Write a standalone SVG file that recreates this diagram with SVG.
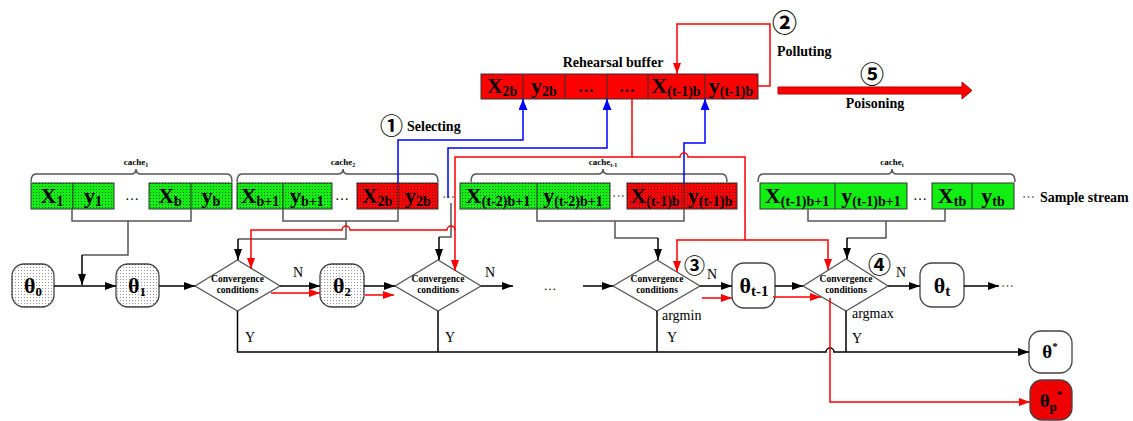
<svg xmlns="http://www.w3.org/2000/svg" width="1133" height="421" viewBox="0 0 1133 421">
<defs>
<pattern id="dots" width="3" height="3" patternUnits="userSpaceOnUse"><rect width="1" height="1" fill="#000" opacity="0.6"/></pattern>
<marker id="ak" markerWidth="11" markerHeight="8" refX="11" refY="4" orient="auto" markerUnits="userSpaceOnUse"><path d="M0,0 L11,4 L0,8 z" fill="#000"/></marker>
<marker id="ar" markerWidth="11" markerHeight="8" refX="11" refY="4" orient="auto" markerUnits="userSpaceOnUse"><path d="M0,0 L11,4 L0,8 z" fill="#ff0000"/></marker>
<marker id="ab" markerWidth="11" markerHeight="9" refX="11" refY="4.5" orient="auto" markerUnits="userSpaceOnUse"><path d="M0,0 L11,4.5 L0,9 z" fill="#0000ff"/></marker>
<style>
.t{font-family:"Liberation Serif",serif;font-weight:bold;fill:#000}
.n{font-family:"Liberation Serif",serif;fill:#000}
.c{text-anchor:middle}
.big{font-size:22px}
.s{font-size:14px}
.lab{font-size:14px}
.cv{font-size:9.5px;text-anchor:middle}
.cl{font-size:9px;text-anchor:middle}
.circ{font-family:"Noto Sans CJK SC","DejaVu Sans",sans-serif;font-weight:bold;fill:#000}
.g{fill:#11ee11}
.r{fill:#ff0000}
.cell{stroke:#333;stroke-width:1}
.dot{fill:url(#dots)}
.node{stroke:#444;stroke-width:1.3}
.dia{fill:#fff;stroke:#555;stroke-width:1.3}
.k{fill:none;stroke:#000;stroke-width:1.5}
.gk{fill:none;stroke:#555;stroke-width:1.5}
.rl{fill:none;stroke:#ff0000;stroke-width:1.5}
.bl{fill:none;stroke:#0000ff;stroke-width:1.5}
.gd{fill:#777;font-family:"Liberation Serif",serif;font-size:13px}
</style>
</defs>
<rect width="1133" height="421" fill="#fff"/>

<!-- Rehearsal buffer -->
<g id="buffer">
<text class="t lab c" x="613" y="67">Rehearsal buffer</text>
<rect x="481" y="74" width="277" height="25" class="r cell"/>
<path d="M523,74V99M565,74V99M607,74V99M648,74V99M705,74V99" stroke="#333" stroke-width="1"/>
<text class="t big c" x="502" y="93">X<tspan class="s" dy="3">2b</tspan></text>
<text class="t big c" x="544" y="93">y<tspan class="s" dy="3">2b</tspan></text>
<text class="t c" x="586" y="92" font-size="16">…</text>
<text class="t c" x="627" y="92" font-size="16">…</text>
<text class="t big c" x="676" y="93">X<tspan class="s" dy="3">(t-1)b</tspan></text>
<text class="t big c" x="731" y="93">y<tspan class="s" dy="3">(t-1)b</tspan></text>
</g>

<g id="labels">
<text class="circ" x="380" y="134" font-size="23">①</text>
<text class="t lab" x="407" y="131">Selecting</text>
<text class="circ" x="772" y="32" font-size="25">②</text>
<text class="t lab" x="777" y="56">Polluting</text>
<text class="circ" x="860" y="83" font-size="24">⑤</text>
<text class="t lab c" x="875" y="108">Poisoning</text>
<text class="circ" x="684" y="273" font-size="21">③</text>
<text class="circ" x="868" y="273" font-size="23">④</text>
<text class="n" x="293" y="277" font-size="14">N</text>
<text class="n" x="485" y="277" font-size="14">N</text>
<text class="n" x="707" y="279" font-size="14">N</text>
<text class="n" x="896" y="277" font-size="14">N</text>
<text class="n" x="245" y="342" font-size="14">Y</text>
<text class="n" x="445" y="342" font-size="14">Y</text>
<text class="n" x="667" y="342" font-size="14">Y</text>
<text class="n" x="852" y="343" font-size="14">Y</text>
<text class="n" x="662" y="320" font-size="14">argmin</text>
<text class="n" x="852" y="318" font-size="14">argmax</text>
<text class="n c" x="550" y="290" font-size="13" fill="#888">…</text>
<text class="gd" x="1001" y="290">⋯</text>
<text class="t lab" x="1040" y="202">Sample stream</text>
<text class="gd" x="1022" y="201">⋯</text>
<text class="gd" x="442" y="201" font-size="11">⋯</text>
<text class="gd" x="612" y="200" font-size="11">⋯</text>
</g>

<!-- caches -->
<g id="cache1">
<path d="M31,182Q31,174 36,174H131Q136,174 136,169Q136,174 141,174H227Q232,174 232,182" class="gk"/>
<text class="t cl" x="136" y="165">cache<tspan font-size="6" dy="2">1</tspan></text>
<rect x="31" y="183" width="83" height="26" class="g cell"/>
<rect x="149" y="183" width="83" height="26" class="g cell"/>
<rect x="31" y="183" width="83" height="26" class="dot"/>
<rect x="149" y="183" width="83" height="26" class="dot"/>
<path d="M73,183V209M191,183V209" stroke="#333"/>
<text class="t big c" x="52" y="203">X<tspan class="s" dy="3">1</tspan></text>
<text class="t big c" x="93" y="203">y<tspan class="s" dy="3">1</tspan></text>
<text class="n c" x="132" y="200" font-size="14">…</text>
<text class="t big c" x="170" y="203">X<tspan class="s" dy="3">b</tspan></text>
<text class="t big c" x="211" y="203">y<tspan class="s" dy="3">b</tspan></text>
</g>

<g id="cache2">
<path d="M237,182Q237,174 242,174H338Q343,174 343,169Q343,174 348,174H433Q438,174 438,182" class="gk"/>
<text class="t cl" x="343" y="165">cache<tspan font-size="6" dy="2">2</tspan></text>
<rect x="237" y="183" width="95" height="26" class="g cell"/>
<rect x="357" y="183" width="81" height="26" class="r cell"/>
<rect x="237" y="183" width="95" height="26" class="dot"/>
<rect x="357" y="183" width="81" height="26" class="dot"/>
<path d="M283,183V209M398,183V209" stroke="#333"/>
<text class="t big c" x="260" y="203">X<tspan class="s" dy="3">b+1</tspan></text>
<text class="t big c" x="307" y="203">y<tspan class="s" dy="3">b+1</tspan></text>
<text class="n c" x="342" y="200" font-size="14">…</text>
<text class="t big c" x="377" y="203">X<tspan class="s" dy="3">2b</tspan></text>
<text class="t big c" x="418" y="203">y<tspan class="s" dy="3">2b</tspan></text>
</g>

<g id="cache_t-1">
<path d="M471,182Q471,174 476,174H598Q603,174 603,169Q603,174 608,174H722Q727,174 727,182" class="gk"/>
<text class="t cl" x="603" y="165">cache<tspan font-size="6" dy="2">t-1</tspan></text>
<rect x="460" y="183" width="150" height="26" class="g cell"/>
<rect x="627" y="183" width="110" height="26" class="r cell"/>
<rect x="460" y="183" width="150" height="26" class="dot"/>
<rect x="627" y="183" width="110" height="26" class="dot"/>
<path d="M537,183V209M684,183V209" stroke="#333"/>
<text class="t big c" x="498" y="203">X<tspan class="s" dy="3">(t-2)b+1</tspan></text>
<text class="t big c" x="573" y="203">y<tspan class="s" dy="3">(t-2)b+1</tspan></text>
<text class="t big c" x="655" y="203">X<tspan class="s" dy="3">(t-1)b</tspan></text>
<text class="t big c" x="710" y="203">y<tspan class="s" dy="3">(t-1)b</tspan></text>
</g>

<g id="cache_t">
<path d="M758,182Q758,174 763,174H887Q892,174 892,169Q892,174 897,174H1010Q1015,174 1015,182" class="gk"/>
<text class="t cl" x="892" y="165">cache<tspan font-size="6" dy="2">t</tspan></text>
<rect x="760" y="183" width="147" height="26" class="g cell"/>
<rect x="932" y="183" width="82" height="26" class="g cell"/>
<path d="M835,183V209M972,183V209" stroke="#333"/>
<text class="t big c" x="797" y="203">X<tspan class="s" dy="3">(t-1)b+1</tspan></text>
<text class="t big c" x="871" y="203">y<tspan class="s" dy="3">(t-1)b+1</tspan></text>
<text class="n c" x="920" y="200" font-size="14">…</text>
<text class="t big c" x="952" y="203">X<tspan class="s" dy="3">tb</tspan></text>
<text class="t big c" x="993" y="203">y<tspan class="s" dy="3">tb</tspan></text>
</g>

<!-- theta nodes -->
<g id="theta0"><rect x="12" y="264" width="42" height="43" rx="12" fill="#fff" class="node"/><rect x="12" y="264" width="42" height="43" rx="12" class="dot" opacity="0.7"/><text class="t c" x="33" y="293" font-size="22">θ<tspan font-size="13" dy="3">0</tspan></text></g>
<g id="theta1"><rect x="116" y="264" width="43" height="43" rx="12" fill="#fff" class="node"/><rect x="116" y="264" width="43" height="43" rx="12" class="dot" opacity="0.7"/><text class="t c" x="137" y="293" font-size="22">θ<tspan font-size="13" dy="3">1</tspan></text></g>
<g id="theta2"><rect x="320" y="264" width="44" height="43" rx="12" fill="#fff" class="node"/><rect x="320" y="264" width="44" height="43" rx="12" class="dot" opacity="0.7"/><text class="t c" x="342" y="293" font-size="22">θ<tspan font-size="13" dy="3">2</tspan></text></g>
<g id="theta_t-1"><rect x="732" y="263" width="43" height="45" rx="12" fill="#fff" class="node"/><text class="t c" x="754" y="293" font-size="22">θ<tspan font-size="15" dy="3">t-1</tspan></text></g>
<g id="theta_t"><rect x="920" y="263" width="44" height="44" rx="12" fill="#fff" class="node"/><text class="t c" x="942" y="293" font-size="22">θ<tspan font-size="15" dy="3">t</tspan></text></g>
<g id="theta_star"><rect x="1029" y="331" width="43" height="42" rx="12" fill="#fff" class="node"/><text class="t c" x="1050" y="358" font-size="19">θ<tspan font-size="11" dy="-8">*</tspan></text></g>
<g id="theta_p_star"><rect x="1030" y="380" width="42" height="40" rx="12" fill="#ee0000" class="node"/><text class="t c" x="1051" y="407" font-size="19">θ<tspan font-size="13" dy="4">p</tspan><tspan font-size="11" dy="-13">*</tspan></text></g>

<!-- diamonds -->
<g id="conv1"><polygon points="195,286 237.5,260 280,286 237.5,311" class="dia"/><text class="t cv" x="237.5" y="282">Convergence</text><text class="t cv" x="237.5" y="293">conditions</text></g>
<g id="conv2"><polygon points="395,286 438,260 481,286 438,311" class="dia"/><text class="t cv" x="438" y="282">Convergence</text><text class="t cv" x="438" y="293">conditions</text></g>
<g id="conv3"><polygon points="613,286 657,260 700,286 657,311" class="dia"/><text class="t cv" x="657" y="282">Convergence</text><text class="t cv" x="657" y="293">conditions</text></g>
<g id="conv4"><polygon points="803,286 846,259 888,286 846,311" class="dia"/><text class="t cv" x="846" y="282">Convergence</text><text class="t cv" x="846" y="293">conditions</text></g>

<!-- connectors -->
<g id="connectors">
<path class="gk" d="M72,209V221H191V209M128,221V255H82"/>
<path class="k" d="M82,255V285" marker-end="url(#ak)"/>
<path class="gk" d="M283,209V221H398V209M346,221V239H238"/>
<path class="k" d="M238,239V260" marker-end="url(#ak)"/>
<path class="gk" d="M451,203V237H439"/>
<path class="k" d="M439,237V260" marker-end="url(#ak)"/>
<path class="gk" d="M537,209V221H684V209M615,221V238H658"/>
<path class="k" d="M658,238V260" marker-end="url(#ak)"/>
<path class="gk" d="M808,209V221H945V209M886,221V238H847"/>
<path class="k" d="M847,238V259" marker-end="url(#ak)"/>
<path class="k" d="M54,286H116" marker-end="url(#ak)"/>
<path class="k" d="M159,286H195" marker-end="url(#ak)"/>
<path class="k" d="M280,286H320" marker-end="url(#ak)"/>
<path class="k" d="M364,286H395" marker-end="url(#ak)"/>
<path class="k" d="M481,286H513" marker-end="url(#ak)"/>
<path class="k" d="M583,286H613" marker-end="url(#ak)"/>
<path class="k" d="M700,286H732" marker-end="url(#ak)"/>
<path class="k" d="M775,286H803" marker-end="url(#ak)"/>
<path class="k" d="M888,286H920" marker-end="url(#ak)"/>
<path class="k" d="M964,286H999" marker-end="url(#ak)"/>
<path class="k" d="M438,311V352M657,311V352M846,311V352"/>
<path class="k" d="M237.5,311V352H826A4,4 0 0 1 834,352H1029" marker-end="url(#ak)"/>
<path class="bl" d="M398,183V140H523V99" marker-end="url(#ab)"/>
<path class="bl" d="M448,198V148H607V99" marker-end="url(#ab)"/>
<path class="bl" d="M684,183V143H705V99" marker-end="url(#ab)"/>
<path class="rl" d="M758,86H770V24H677V74" marker-end="url(#ar)"/>
<path class="rl" d="M632,99V157H455V271" marker-end="url(#ar)"/>
<path class="rl" d="M455,230A4,4 0 0 0 447,230H350A4,4 0 0 0 342,230H251V269" marker-end="url(#ar)"/>
<path class="rl" d="M632,157H680A4,4 0 0 1 688,157H745V240H677V272" marker-end="url(#ar)"/>
<path class="rl" d="M745,240H828V270" marker-end="url(#ar)"/>
<path class="rl" d="M271,293H320" marker-end="url(#ar)"/>
<path class="rl" d="M365,295H394" marker-end="url(#ar)"/>
<path class="rl" d="M702,298H732" marker-end="url(#ar)"/>
<path class="rl" d="M773,297H821" marker-end="url(#ar)"/>
<path class="rl" d="M830,298V402H1030" marker-end="url(#ar)"/>
<polygon points="778,87 962,87 962,82 972,90.5 962,99 962,94 778,94" fill="#ff0000" stroke="#b00000" stroke-width="1"/>
</g>
</svg>
